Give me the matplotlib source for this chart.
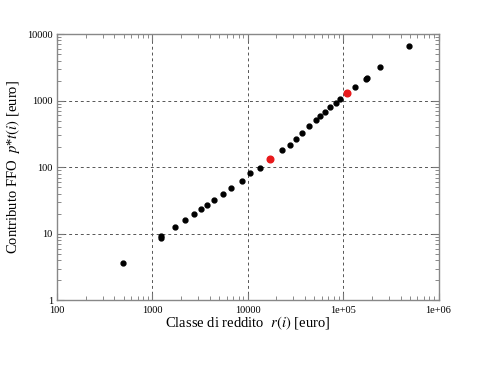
import numpy as np
import matplotlib
matplotlib.use("Agg")
import matplotlib.pyplot as plt
from matplotlib.ticker import LogLocator, FixedLocator, FixedFormatter, NullFormatter

# income class r(i) [euro] and FFO contribution p*t(i) [euro]
reddito = [490, 1230, 1240, 1740, 2220, 2740, 3220, 3720, 4440, 5480, 6650,
           8740, 10600, 13300, 23100, 27400, 31800, 36900, 44400, 52200,
           57500, 65200, 73300, 84700, 93300, 133000, 172000, 178000,
           245000, 490000]
contributo = [3.6, 8.8, 9.4, 12.5, 16.1, 19.8, 23.3, 27.3, 32.2, 39.6, 48.7,
              62.7, 81, 97, 181, 215, 268, 332, 420, 508,
              583, 674, 793, 930, 1050, 1630, 2140, 2190,
              3200, 6670]

# highlighted points (red)
reddito_red = [17200, 109000]
contributo_red = [131, 1290]

xticks = [100, 1000, 10000, 1e5, 1e6]
xticklabels = ["100", "1000", "10000", "1e+05", "1e+06"]
yticks = [1, 10, 100, 1000, 10000]
yticklabels = ["1", "10", "100", "1000", "10000"]

plt.rcParams['font.family'] = ['Liberation Serif', 'DejaVu Serif']
plt.rcParams['mathtext.fontset'] = 'stix'

fig = plt.figure(figsize=(5, 3.66), dpi=100)
ax = fig.add_axes([0.114, 0.179, 0.763, 0.728])

ax.set_xscale('log')
ax.set_yscale('log')
ax.set_xlim(100, 1e6)
ax.set_ylim(1, 10000)

ax.plot(reddito, contributo, 'o', color='black', markersize=3.5, zorder=3)
ax.plot(reddito_red, contributo_red, 'o', color='#e8191b', markersize=4.8, zorder=3)

ax.xaxis.set_major_locator(FixedLocator(xticks))
ax.xaxis.set_major_formatter(FixedFormatter(xticklabels))
ax.yaxis.set_major_locator(FixedLocator(yticks))
ax.yaxis.set_major_formatter(FixedFormatter(yticklabels))
ax.xaxis.set_minor_locator(LogLocator(base=10, subs=np.arange(2, 10)))
ax.yaxis.set_minor_locator(LogLocator(base=10, subs=np.arange(2, 10)))
ax.xaxis.set_minor_formatter(NullFormatter())
ax.yaxis.set_minor_formatter(NullFormatter())

ax.tick_params(which='both', direction='in', top=True, right=True,
               color='#777777', labelsize=7.5)
ax.tick_params(axis='x', which='major', pad=4)
ax.tick_params(axis='y', which='major', pad=3)
ax.tick_params(which='major', length=5, width=0.8)
ax.tick_params(which='minor', length=3, width=0.6)

ax.grid(True, which='major', linestyle=(0, (3, 3)), color='#555555', linewidth=0.7)

for s in ax.spines.values():
    s.set_color('#888888')
    s.set_linewidth(1.0)

ax.set_xlabel(r"Classe di reddito  $r(i)$ [euro]", fontsize=10.5, labelpad=0)
ax.set_ylabel(r"Contributo FFO  $p$*$t(i)$ [euro]", fontsize=10.5, labelpad=4)

fig.savefig("out.png", dpi=100)
